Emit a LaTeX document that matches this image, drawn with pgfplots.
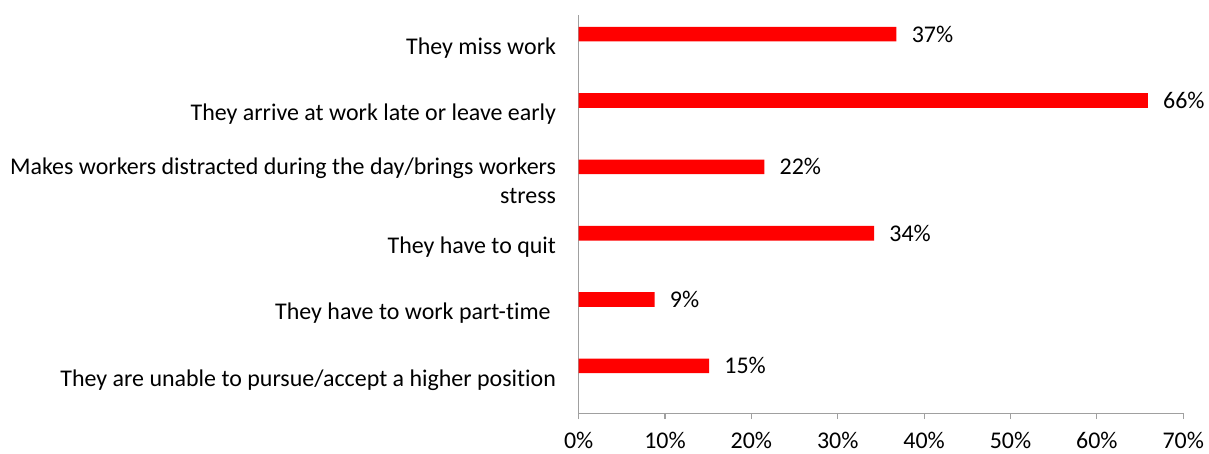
\documentclass[border=0pt]{standalone}
\usepackage{pgfplots}
\pgfplotsset{compat=1.18}
\usepackage{pgfplotstable}
\usepackage{fontspec}
\setmainfont[Ligatures=NoCommon]{Carlito}
\definecolor{barred}{HTML}{FF0000}
\definecolor{axgray}{HTML}{A0A0A0}
\pgfplotstableread{
y x lab
5 36.8 37
4 65.9 66
3 21.5 22
2 34.2 34
1 8.8 9
0 15.1 15
}\datatab
\begin{document}
\begin{tikzpicture}
\begin{axis}[
  scale only axis,
  width=454.5pt, height=299.25pt,
  xbar, bar width=11pt, bar shift=10.5pt,
  xmin=0, xmax=70, ymin=-0.5, ymax=5.5,
  axis x line=bottom, axis y line=left,
  axis line style={-, draw=axgray, line width=0.8pt},
  xtick={0,10,...,70},
  xticklabels={0\%,10\%,20\%,30\%,40\%,50\%,60\%,70\%},
  xtick style={draw=axgray, line width=0.8pt},
  tick align=outside,
  major tick length=4.5pt,
  ytick={0,...,5},
  yticklabels={They are unable to pursue/accept a higher position,
    They have to work part-time\ ,
    They have to quit,
    {Makes workers distracted during the day/brings workers\\stress},
    They arrive at work late or leave early,
    They miss work},
  ytick style={draw=none},
  minor ytick={-0.5,0.5,...,5.5},
  minor tick length=4.5pt,
  minor tick style={draw=axgray, line width=0.8pt},
  tick label style={font=\fontsize{18}{21.75}\selectfont},
  yticklabel style={align=right, xshift=-9pt},
  xticklabel style={yshift=-6.5pt},
  point meta=explicit symbolic,
  nodes near coords={\pgfplotspointmeta\%},
  nodes near coords style={font=\fontsize{18}{21.75}\selectfont, anchor=west, xshift=8pt, text=black},
  clip=false,
]
\addplot[fill=barred, draw=none] table[x=x, y=y, meta=lab] {\datatab};
\end{axis}
\path ([xshift=-435pt,yshift=-30.75pt]current axis.south west) rectangle ([xshift=17.25pt,yshift=11.25pt]current axis.north east);
\end{tikzpicture}
\end{document}
